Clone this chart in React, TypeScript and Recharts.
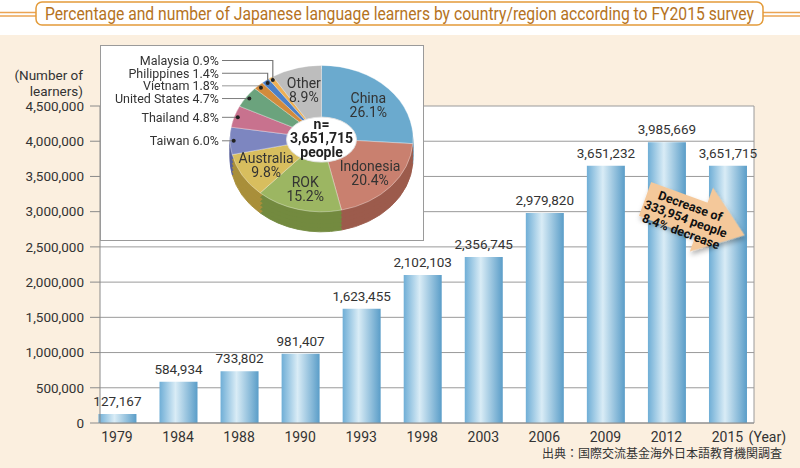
import { BarChart, Bar, XAxis, YAxis, CartesianGrid, LabelList, PieChart, Pie, Cell } from 'recharts';

const years = ['1979', '1984', '1988', '1990', '1993', '1998', '2003', '2006', '2009', '2012', '2015'];
const learners = [127167, 584934, 733802, 981407, 1623455, 2102103, 2356745, 2979820, 3651232, 3985669, 3651715];
const yTicks = [0, 500000, 1000000, 1500000, 2000000, 2500000, 3000000, 3500000, 4000000, 4500000];
const yearTicks = years.map((_, i) => i);

const countries = ['China', 'Indonesia', 'ROK', 'Australia', 'Taiwan', 'Thailand', 'United States', 'Vietnam', 'Philippines', 'Malaysia', 'Other'];
const shares = [26.1, 20.4, 15.2, 9.8, 6.0, 4.8, 4.7, 1.8, 1.4, 0.9, 8.9];
const sliceColors = ['#6BAACE', '#C9806F', '#9CB662', '#D8BE5E', '#7D86C0', '#C8728E', '#6BA37D', '#D38B3B', '#4C80C8', '#EDB055', '#BDBDBD'];
const sideColors = ['#4E86A8', '#9C5B4C', '#738A3F', '#A98F3A', '#58609A', '#9C4E68', '#4A7C5A', '#A5651F', '#345E9C', '#C08530', '#919191'];
const insideLabelled = ['China', 'Indonesia', 'ROK', 'Australia', 'Other'];

const totalLearners = '3,651,715';
const titleText = 'Percentage and number of Japanese language learners by country/region according to FY2015 survey';
const sourceText = '出典：国際交流基金海外日本語教育機関調査';
const arrowLines = ['Decrease of', '333,954 people', '8.4% decrease'];
const yAxisTitle = ['(Number of', 'learners)'];

const FONT = 'Roboto, "Noto Sans", sans-serif';
const TEXT = '#333';
const ORANGE = '#E39B3A';
const CREAM = '#FBEFDF';
const SQUASH = 0.8; // vertical squash that tilts the pie
const PIE_CX = 221.5;
const PIE_CY = 117;
const PIE_R = 91.5;

const barData = years.map((year, i) => ({ idx: i, year, value: learners[i] }));
const pieData = countries.map((name, i) => ({ name, value: shares[i] }));

const fmt = (v: number) => Number(v).toLocaleString('en-US');

// clockwise turn (0..1) of each slice middle, from 12 o'clock
const midTurns = shares.map((s, i) => (shares.slice(0, i).reduce((a, b) => a + b, 0) + s / 2) / 100);
const polar = (cx: number, cy: number, r: number, turn: number) => ({
  x: cx + r * Math.sin(turn * 2 * Math.PI),
  y: cy - r * Math.cos(turn * 2 * Math.PI),
});

// leader rows for the small slices, stacked upwards from Taiwan
const outsideRows = (cx: number, cy: number, r: number) => {
  const rows: Record<number, { dot: { x: number; y: number }; textY: number }> = {};
  let prev = Infinity;
  countries.forEach((name, i) => {
    if (insideLabelled.includes(name)) return;
    const dot = polar(cx, cy, r * 0.96, midTurns[i]);
    const textY = Math.min(dot.y, prev - 12.7 / SQUASH);
    prev = textY;
    rows[i] = { dot, textY };
  });
  return rows;
};

const Upright = ({ x, y, children }: { x: number; y: number; children: any }) => (
  <g transform={`translate(${x},${y}) scale(1,${1 / SQUASH})`}>{children}</g>
);

const renderPieLabel = (props: any) => {
  const cx = props.cx ?? PIE_CX;
  const cy = props.cy ?? PIE_CY;
  const r = props.outerRadius ?? PIE_R;
  const index: number = props.index;
  const name = countries[index];
  const pct = `${shares[index].toFixed(1)}%`;
  const parts: any[] = [];

  if (index === 0) {
    parts.push(
      <g key="center">
        <ellipse cx={cx} cy={cy + 1 / SQUASH} rx={35} ry={22.5 / SQUASH} fill="#fff" stroke="#e2e2e2" />
        <Upright x={cx} y={cy}>
          <text textAnchor="middle" dominantBaseline="central" fontSize={14} fontWeight={700} fill="#222" fontFamily={FONT}>
            <tspan x={0} y={-15}>n=</tspan>
            <tspan x={0} y={-1}>{totalLearners}</tspan>
            <tspan x={0} y={13}>people</tspan>
          </text>
        </Upright>
      </g>
    );
  }

  if (insideLabelled.includes(name)) {
    const p = polar(cx, cy, r * 0.7, midTurns[index]);
    parts.push(
      <Upright key="in" x={p.x} y={p.y + 1 / SQUASH}>
        <text textAnchor="middle" dominantBaseline="central" fontSize={14} fill={TEXT} fontFamily={FONT}>
          <tspan x={0} y={-7}>{name}</tspan>
          <tspan x={0} y={7}>{pct}</tspan>
        </text>
      </Upright>
    );
  } else {
    const { dot, textY } = outsideRows(cx, cy, r)[index];
    const lineStart = cx - 99.5;
    parts.push(
      <g key="out">
        <polyline
          points={`${lineStart},${textY} ${dot.x},${textY} ${dot.x},${dot.y}`}
          fill="none"
          stroke="#777"
          strokeWidth={1.2}
        />
        <ellipse cx={dot.x} cy={dot.y} rx={2} ry={2 / SQUASH} fill="#222" />
        <Upright x={lineStart - 3} y={textY}>
          <text textAnchor="end" dominantBaseline="central" fontSize={12.5} fill={TEXT} fontFamily={FONT}>
            {`${name} ${pct}`}
          </text>
        </Upright>
      </g>
    );
  }
  return <g key={`lbl-${index}`}>{parts}</g>;
};

const YearTick = ({ x, y, payload }: any) => {
  const i = payload.value as number;
  return (
    <g>
      <text x={x} y={y} dy={11} textAnchor="middle" fontSize={14} fill={TEXT} fontFamily={FONT}>
        {years[i]}
      </text>
      {i === years.length - 1 && (
        <text x={x + 21} y={y} dy={11} textAnchor="start" fontSize={14} fill={TEXT} fontFamily={FONT}>
          (Year)
        </text>
      )}
    </g>
  );
};

const sideOffsets = [25, 20, 15, 10, 5];

export default function App() {
  return (
    <div
      style={{
        position: 'absolute',
        left: 0,
        top: 0,
        width: 800,
        height: 468,
        overflow: 'hidden',
        background: `linear-gradient(#fff 0px, #fff 35px, ${CREAM} 35px)`,
        fontFamily: FONT,
      }}
    >
      <div style={{ position: 'absolute', left: 0, top: 0 }}>
        <BarChart width={800} height={468} data={barData} margin={{ top: 106, right: 46, bottom: 25, left: 10 }}>
          <defs>
            <linearGradient id="barFill" x1="0" y1="0" x2="1" y2="0">
              <stop offset="0%" stopColor="#6FAED6" />
              <stop offset="42%" stopColor="#D9ECF6" />
              <stop offset="100%" stopColor="#5A9DC8" />
            </linearGradient>
          </defs>
          <CartesianGrid
            fill="#fff"
            stroke="#9a9a9a"
            verticalCoordinatesGenerator={({ offset }: any) => [offset.left + offset.width]}
          />
          <XAxis
            type="number"
            dataKey="idx"
            domain={[-0.278, 10.434]}
            ticks={yearTicks}
            interval={0}
            height={20}
            tickLine={false}
            axisLine={{ stroke: '#8a8a8a' }}
            tick={<YearTick />}
          />
          <YAxis
            width={90}
            domain={[0, 4500000]}
            ticks={yTicks}
            interval={0}
            tickSize={10}
            tickMargin={6}
            tickFormatter={fmt}
            tick={{ fontSize: 13.5, fill: TEXT, fontFamily: FONT }}
            axisLine={{ stroke: '#8a8a8a' }}
            tickLine={{ stroke: '#8a8a8a' }}
          />
          <Bar dataKey="value" barSize={38} fill="url(#barFill)" isAnimationActive={false}>
            <LabelList dataKey="value" position="top" offset={8} formatter={fmt} fill={TEXT} fontSize={13.5} fontFamily={FONT} />
          </Bar>
        </BarChart>
      </div>

      {/* inset box for the pie */}
      <div
        style={{
          position: 'absolute',
          left: 100,
          top: 45,
          width: 322,
          height: 194,
          background: '#fff',
          border: '1px solid #9a9a9a',
        }}
      />
      <div style={{ position: 'absolute', left: 100, top: 45, transform: `scaleY(${SQUASH})`, transformOrigin: 'top left' }}>
        <PieChart width={323} height={244} margin={{ top: 0, right: 0, bottom: 0, left: 0 }}>
          {sideOffsets.map((off) => (
            <Pie
              key={`side-${off}`}
              data={pieData}
              dataKey="value"
              cx={PIE_CX}
              cy={PIE_CY + off}
              outerRadius={PIE_R}
              startAngle={90}
              endAngle={-270}
              isAnimationActive={false}
            >
              {pieData.map((d, i) => (
                <Cell key={d.name} fill={sideColors[i]} stroke={sideColors[i]} />
              ))}
            </Pie>
          ))}
          <Pie
            data={pieData}
            dataKey="value"
            cx={PIE_CX}
            cy={PIE_CY}
            outerRadius={PIE_R}
            startAngle={90}
            endAngle={-270}
            isAnimationActive={false}
            label={renderPieLabel}
            labelLine={false}
          >
            {pieData.map((d, i) => (
              <Cell key={d.name} fill={sliceColors[i]} stroke="rgba(255,255,255,0.5)" strokeWidth={0.8} />
            ))}
          </Pie>
        </PieChart>
      </div>

      <svg width={800} height={468} style={{ position: 'absolute', left: 0, top: 0, pointerEvents: 'none' }}>
        <defs>
          <filter id="arrowShadow" x="-20%" y="-20%" width="140%" height="150%">
            <feDropShadow dx="2" dy="3" stdDeviation="2.5" floodColor="#000" floodOpacity="0.3" />
          </filter>
        </defs>

        {/* title banner */}
        <g stroke="#EBA453" strokeWidth={1.3}>
          <line x1={0} x2={36} y1={12.5} y2={12.5} />
          <line x1={0} x2={36} y1={16} y2={16} />
          <line x1={763} x2={800} y1={12.5} y2={12.5} />
          <line x1={763} x2={800} y1={16} y2={16} />
        </g>
        <rect x={36} y={2} width={727} height={23} rx={6} fill="#fff" stroke={ORANGE} strokeWidth={1.5} />
        <text
          x={45}
          y={19.5}
          fontSize={18}
          fill="#B5731E"
          fontFamily={FONT}
          textLength={709}
          lengthAdjust="spacingAndGlyphs"
        >
          {titleText}
        </text>

        {/* y axis title */}
        <text textAnchor="end" fontSize={13.5} fill={TEXT} fontFamily={FONT} dominantBaseline="central">
          <tspan x={83} y={75}>{yAxisTitle[0]}</tspan>
          <tspan x={83} y={91}>{yAxisTitle[1]}</tspan>
        </text>

        {/* decrease arrow */}
        <g transform="translate(645,199) rotate(20)">
          <polygon points="0,-18 60,-18 60,-34 106,0 60,34 60,18 0,18" fill="#F4C89A" filter="url(#arrowShadow)" />
          <text textAnchor="middle" dominantBaseline="central" fontSize={12.5} fontWeight={700} fill="#111" fontFamily={FONT}>
            {arrowLines.map((line, i) => (
              <tspan key={line} x={45} y={-9.5 + i * 13.5}>
                {line}
              </tspan>
            ))}
          </text>
        </g>

        {/* source */}
        <text
          x={782}
          y={452}
          textAnchor="end"
          dominantBaseline="central"
          fontSize={12}
          fill={TEXT}
          fontFamily='"Noto Sans CJK JP", sans-serif'
        >
          {sourceText}
        </text>
      </svg>
    </div>
  );
}
